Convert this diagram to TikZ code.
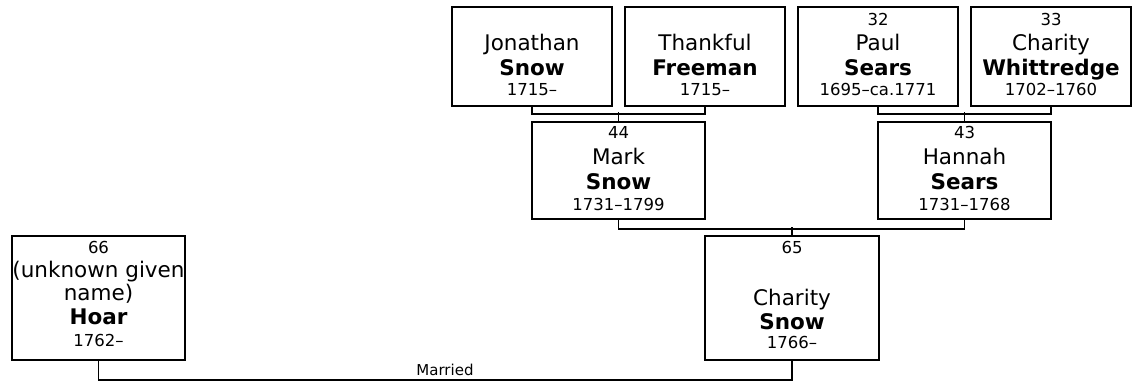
\documentclass[tikz,border=0pt]{standalone}
\usepackage{fontspec}
\setmainfont{DejaVu Sans}
\begin{document}
\begin{tikzpicture}[x=1pt,y=-1pt,
  box/.style={draw,line width=2pt,inner sep=0pt},
  conn/.style={draw,line width=1.8pt},
  num/.style={anchor=base,inner sep=0pt,font=\fontsize{16.5}{19}\selectfont},
  given/.style={anchor=base,inner sep=0pt,font=\fontsize{21.5}{24}\selectfont},
  sur/.style={anchor=base,inner sep=0pt,font=\fontsize{21.5}{24}\selectfont\bfseries},
  dates/.style={anchor=base,inner sep=0pt,font=\fontsize{16.5}{19}\selectfont},
  lbl/.style={anchor=base,inner sep=0pt,font=\fontsize{15}{17}\selectfont}]
\useasboundingbox (0,0) rectangle (1139,381);
% boxes
\node[box,minimum width=160pt,minimum height=99pt] (J) at (532,56.5) {};
\node[box,minimum width=160pt,minimum height=99pt] (T) at (705,56.5) {};
\node[box,minimum width=160pt,minimum height=99pt] (P) at (878,56.5) {};
\node[box,minimum width=160pt,minimum height=99pt] (W) at (1051,56.5) {};
\node[box,minimum width=173pt,minimum height=97pt] (M) at (618.5,170.5) {};
\node[box,minimum width=173pt,minimum height=97pt] (H) at (964.5,170.5) {};
\node[box,minimum width=174pt,minimum height=124pt] (CS) at (792,298) {};
\node[box,minimum width=173pt,minimum height=124pt] (HO) at (98.5,298) {};
% texts
\node[given] (Jg) at (532,50) {Jonathan};
\node[sur] (Js) at (532,75) {Snow};
\node[dates] (Jd) at (532,95) {1715–};
\node[given] (Tg) at (705,50) {Thankful};
\node[sur] (Ts) at (705,75) {Freeman};
\node[dates] (Td) at (705,95) {1715–};
\node[num] (Pn) at (878,25) {32};
\node[given] (Pg) at (878,50) {Paul};
\node[sur] (Ps) at (878,75) {Sears};
\node[dates] (Pd) at (878,95) {1695–ca.1771};
\node[num] (Wn) at (1051,25) {33};
\node[given] (Wg) at (1051,50) {Charity};
\node[sur] (Ws) at (1051,75) {Whittredge};
\node[dates] (Wd) at (1051,95) {1702–1760};
\node[num] (Mn) at (618.5,138) {44};
\node[given] (Mg) at (618.5,164) {Mark};
\node[sur] (Ms) at (618.5,189) {Snow};
\node[dates] (Md) at (618.5,210) {1731–1799};
\node[num] (Hn) at (964.5,138) {43};
\node[given] (Hg) at (964.5,164) {Hannah};
\node[sur] (Hs) at (964.5,189) {Sears};
\node[dates] (Hd) at (964.5,210) {1731–1768};
\node[num] (CSn) at (792,253) {65};
\node[given] (CSg) at (792,305) {Charity};
\node[sur] (CSs) at (792,329) {Snow};
\node[dates] (CSd) at (792,348) {1766–};
\node[num] (HOn) at (98.5,253) {66};
\node[given] (HOg1) at (98.5,277) {(unknown given};
\node[given] (HOg2) at (98.5,300) {name)};
\node[sur] (HOs) at (98.5,324) {Hoar};
\node[dates] (HOd) at (98.5,346) {1762–};
% connectors
\draw[conn] (J.south) -- ++(0,7) -| (T.south);
\draw[conn] (M.north) -- ++(0,-9);
\draw[conn] (P.south) -- ++(0,7) -| (W.south);
\draw[conn] (H.north) -- ++(0,-9);
\draw[conn] (M.south) -- ++(0,9) -| (H.south);
\draw[conn] (CS.north) -- ++(0,-8);
\draw[conn] (HO.south) -- ++(0,19) coordinate (mL) -| (CS.south);
\node[lbl] (mar) at (445,375) {Married};
\end{tikzpicture}
\end{document}
